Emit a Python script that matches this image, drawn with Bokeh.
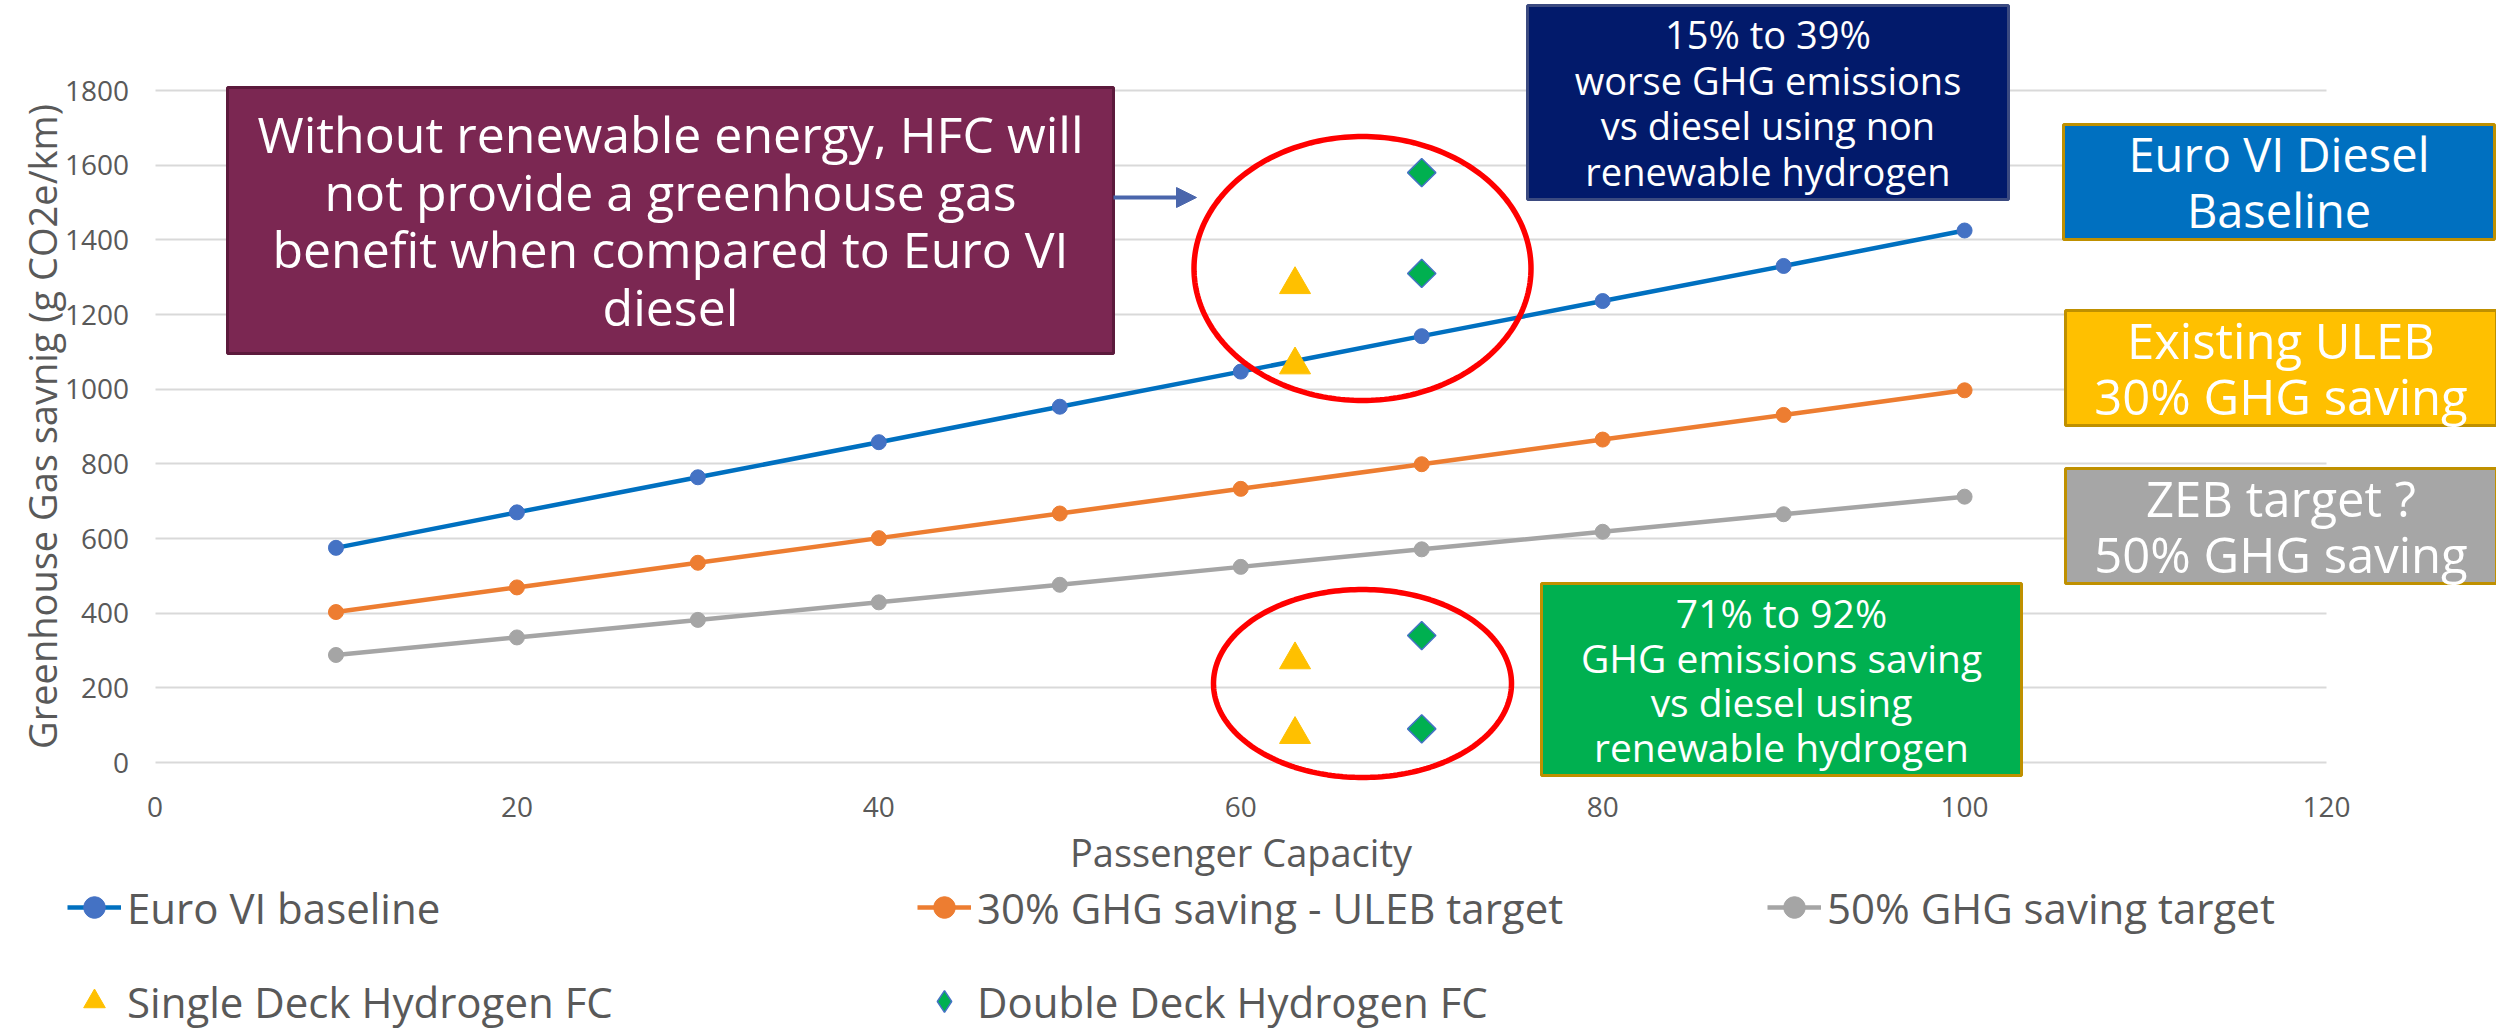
import numpy as np
from bokeh.plotting import figure
from bokeh.models import (BoxAnnotation, Label, Legend, LegendItem, Arrow, NormalHead,
                          PolyAnnotation, Range1d, FixedTicker)
from bokeh.embed import file_html
from bokeh.resources import INLINE

# ---------------- data ----------------
passengers = [10, 20, 30, 40, 50, 60, 70, 80, 90, 100]
euro_vi = [575, 670, 764, 858, 953, 1047, 1142, 1236, 1330, 1425]
uleb_30 = [403, 469, 535, 601, 667, 733, 799, 865, 931, 997]
target_50 = [288, 335, 382, 429, 476, 524, 571, 618, 665, 712]
single_deck_x = [63, 63, 63, 63]
single_deck_y = [1280, 1065, 275, 75]
double_deck_x = [70, 70, 70, 70]
double_deck_y = [1580, 1310, 340, 90]
x_ticks = [0, 20, 40, 60, 80, 100, 120]
y_ticks = [0, 200, 400, 600, 800, 1000, 1200, 1400, 1600, 1800]
x_axis_span = (0, 120)
y_axis_span = (0, 1800)

series_labels = ["Euro VI baseline", "30% GHG saving - ULEB target", "50% GHG saving target",
                 "Single Deck Hydrogen FC", "Double Deck Hydrogen FC"]

# ---------------- layout helpers (reference screen px -> data) ----------------
W, H = 2496, 1031
X0, X1 = 154.5, 2326.0   # pixel of x=0 and x=120
Y0, Y1 = 762.0, 90.0     # pixel of y=0 and y=1800


def dx(px):
    return (px - X0) / (X1 - X0) * (x_axis_span[1] - x_axis_span[0])


def dy(py):
    return (Y0 - py) / (Y0 - Y1) * (y_axis_span[1] - y_axis_span[0])


FONT = "Open Sans"
GREY_TXT = "#595959"

# the frame covers the whole canvas; axes are pinned at x=0 / y=0
p = figure(width=W, height=H, x_range=Range1d(dx(0), dx(W)), y_range=Range1d(dy(H), dy(0)),
           output_backend="svg", toolbar_location=None,
           min_border_left=0, min_border_right=0, min_border_top=0, min_border_bottom=0)
p.outline_line_color = None
p.background_fill_color = "white"

p.xaxis.ticker = FixedTicker(ticks=x_ticks)
p.yaxis.ticker = FixedTicker(ticks=y_ticks)
p.xaxis.fixed_location = 0
p.yaxis.fixed_location = 0
p.xaxis.bounds = x_axis_span
p.yaxis.bounds = y_axis_span
p.xgrid.grid_line_color = None
ygrid = p.ygrid[0]
ygrid.ticker = FixedTicker(ticks=y_ticks)
ygrid.grid_line_color = "#D9D9D9"
ygrid.grid_line_width = 2
try:
    ygrid.cross_bounds = x_axis_span
except Exception:
    ygrid.grid_line_color = None
    n = len(y_ticks)
    p.segment(x0=[x_axis_span[0]] * n, x1=[x_axis_span[1]] * n, y0=y_ticks, y1=y_ticks,
              line_color="#D9D9D9", line_width=2, level="underlay")

for ax in (p.xaxis[0], p.yaxis[0]):
    ax.axis_line_color = None
    ax.major_tick_line_color = None
    ax.minor_tick_line_color = None
    ax.major_tick_in = 0
    ax.major_tick_out = 0
    ax.minor_tick_in = 0
    ax.minor_tick_out = 0
    ax.major_label_text_font = FONT
    ax.major_label_text_font_size = "28px"
    ax.major_label_text_color = GREY_TXT
    ax.axis_label_text_font = FONT
    ax.axis_label_text_font_size = "38px"
    ax.axis_label_text_font_style = "normal"
    ax.axis_label_text_color = GREY_TXT

p.xaxis.axis_label = "Passenger Capacity"
p.yaxis.axis_label = "Greenhouse Gas savnig (g CO2e/km)"
p.xaxis.major_label_standoff = 34
p.yaxis.major_label_standoff = 26
p.xaxis.axis_label_standoff = 6
p.yaxis.axis_label_standoff = -6

# ---------------- series ----------------
l1 = p.line(passengers, euro_vi, line_color="#0070C0", line_width=4.5)
m1 = p.scatter(passengers, euro_vi, marker="circle", size=15, fill_color="#4472C4", line_color="#4472C4")
l2 = p.line(passengers, uleb_30, line_color="#ED7D31", line_width=4.5)
m2 = p.scatter(passengers, uleb_30, marker="circle", size=15, fill_color="#ED7D31", line_color="#ED7D31")
l3 = p.line(passengers, target_50, line_color="#A5A5A5", line_width=4.5)
m3 = p.scatter(passengers, target_50, marker="circle", size=15, fill_color="#A5A5A5", line_color="#A5A5A5")
sd = p.scatter(single_deck_x, single_deck_y, marker="triangle", size=31,
               fill_color="#FFC000", line_color="#FFC000")
dd = p.scatter(double_deck_x, double_deck_y, marker="square", angle=np.pi / 4, size=20,
               fill_color="#00B050", line_color="#4472C4", line_width=1.5)
# legend key for the double-deck series (legend keys are never rotated): hidden twin
dd_key = p.scatter(double_deck_x, double_deck_y, marker="diamond", size=28,
                   fill_color="#00B050", line_color="#4472C4", line_width=1.5, visible=False)

legend = Legend(items=[
    LegendItem(label=series_labels[0], renderers=[l1, m1]),
    LegendItem(label=series_labels[1], renderers=[l2, m2]),
    LegendItem(label=series_labels[2], renderers=[l3, m3]),
    LegendItem(label=series_labels[3], renderers=[sd]),
    LegendItem(label=series_labels[4], renderers=[dd_key]),
], orientation="horizontal", ncols=3, location=(67, 1),
    glyph_width=54, glyph_height=54, label_standoff=6, label_width=754, label_height=58,
    spacing=36, padding=0, margin=0, border_line_color=None, background_fill_alpha=0,
    inactive_fill_alpha=0,
    label_text_font=FONT, label_text_font_size="42px", label_text_color=GREY_TXT)
p.add_layout(legend)

# ---------------- red ellipses ----------------
t = np.linspace(0, 2 * np.pi, 241)
for (cx, cy, ew, eh) in [(1362, 268, 337, 264), (1362, 683, 298, 188)]:
    xs = dx(cx) + (dx(cx + ew / 2) - dx(cx)) * np.cos(t)
    ys = dy(cy) + (dy(cy - eh / 2) - dy(cy)) * np.sin(t)
    p.add_layout(PolyAnnotation(xs=list(xs), ys=list(ys), fill_color=None, fill_alpha=0,
                                line_color="#FF0000", line_width=5.5, line_alpha=1))

# ---------------- boxes with text ----------------
boxes = [
    # left, top, right, bottom (ref px), fill, border, text, font px, line height
    (227, 87, 1113, 353, "#7B2752", "#5C1A3C",
     "Without renewable energy, HFC will\nnot provide a greenhouse gas\nbenefit when compared to Euro VI\ndiesel", 50, 0.85),
    (1527, 5, 2008, 199, "#021A6B", "#3B4A80",
     "15% to 39%\nworse GHG emissions\nvs diesel using non\nrenewable hydrogen", 38, 0.88),
    (2063, 124, 2494, 239, "#0070C0", "#BF9000", "Euro VI Diesel\nBaseline", 47, 0.86),
    (2065, 310, 2496, 425, "#FFC000", "#BF9000", "Existing ULEB\n30% GHG saving", 49, 0.85),
    (2065, 468, 2496, 583, "#A6A6A6", "#BF9000", "ZEB target ?\n50% GHG saving", 49, 0.85),
    (1541, 583, 2021, 775, "#00B050", "#BF9000",
     "71% to 92%\nGHG emissions saving\nvs diesel using\nrenewable hydrogen", 39, 0.84),
]
for (l, tp, r, b, fc, lc, txt, fs, lh) in boxes:
    p.add_layout(BoxAnnotation(left=dx(l), right=dx(r), top=dy(tp), bottom=dy(b),
                               fill_color=fc, fill_alpha=1, line_color=lc, line_alpha=1, line_width=3))
    p.add_layout(Label(x=dx((l + r) / 2), y=dy((tp + b) / 2), text=txt, text_align="center",
                       text_baseline="middle", text_font=FONT, text_font_size=f"{fs}px",
                       text_color="white", text_line_height=lh))

# ---------------- arrow ----------------
p.add_layout(Arrow(end=NormalHead(size=20, fill_color="#4A66AC", line_color="#4A66AC"),
                   x_start=dx(1113), y_start=dy(197), x_end=dx(1196), y_end=dy(197),
                   line_color="#4A66AC", line_width=4))

open("out.html", "w").write(file_html(p, INLINE))
